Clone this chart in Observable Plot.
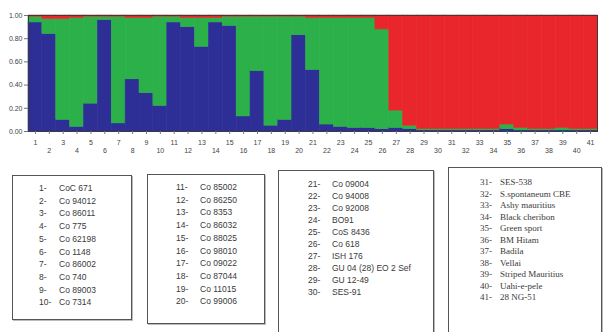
<!DOCTYPE html>
<html>
<head>
<meta charset="utf-8">
<script src="https://cdn.jsdelivr.net/npm/d3@7"></script>
<script src="https://cdn.jsdelivr.net/npm/@observablehq/plot@0.6"></script>
<style>
  html, body { margin: 0; padding: 0; background: #fff; }
  #wrap { position: relative; width: 604px; height: 332px; overflow: hidden; background: #fff; }
  #chart { position: absolute; left: 0; top: 0; }
  .box { position: absolute; border: 1px solid #555; box-shadow: 1px 1px 0 #bbb; background: #fff; color: #3a3a3a; }
  .box .row { position: absolute; white-space: nowrap; }
  .sans { font-family: "Liberation Sans", Arial, sans-serif; font-size: 8.5px; }
  .serif { font-family: "Liberation Serif", "Times New Roman", serif; font-size: 9px; }
</style>
</head>
<body>
<div id="wrap">
  <div id="chart"></div>
</div>
<script>
// Accession numbers
const ids = d3.range(1, 42);
// Membership coefficients (cluster K1 = blue, K2 = green, K3 = red)
const blue  = [0.94,0.84,0.10,0.04,0.24,0.96,0.07,0.45,0.33,0.22,
               0.94,0.90,0.73,0.94,0.91,0.13,0.52,0.05,0.10,0.83,
               0.53,0.06,0.04,0.03,0.03,0.02,0.03,0.02,0.01,0.01,
               0.01,0.01,0.01,0.01,0.02,0.01,0.01,0.01,0.01,0.01,0.01];
const green = [0.05,0.13,0.87,0.94,0.75,0.03,0.92,0.53,0.65,0.77,
               0.05,0.08,0.25,0.04,0.08,0.86,0.47,0.94,0.89,0.16,
               0.45,0.92,0.94,0.95,0.95,0.86,0.15,0.03,0.01,0.01,
               0.01,0.01,0.01,0.01,0.04,0.02,0.01,0.01,0.02,0.01,0.01];
const red   = [0.01,0.03,0.03,0.02,0.01,0.01,0.01,0.02,0.02,0.01,
               0.01,0.02,0.02,0.02,0.01,0.01,0.01,0.01,0.01,0.01,
               0.02,0.02,0.02,0.02,0.02,0.12,0.82,0.95,0.98,0.98,
               0.98,0.98,0.98,0.98,0.94,0.97,0.98,0.98,0.97,0.98,0.98];
const clusters = ["K1", "K2", "K3"];
const clusterColors = ["#2e2f96", "#2bb04a", "#e8262b"];
const yTicks = [0, 0.2, 0.4, 0.6, 0.8, 1.0];

// Legend names
const names = [
  "CoC 671","Co 94012","Co 86011","Co 775","Co 62198","Co 1148","Co 86002","Co 740","Co 89003","Co 7314",
  "Co 85002","Co 86250","Co 8353","Co 86032","Co 88025","Co 98010","Co 09022","Co 87044","Co 11015","Co 99006",
  "Co 09004","Co 94008","Co 92008","BO91","CoS 8436","Co 618","ISH 176","GU 04 (28) EO 2 Sef","GU 12-49","SES-91",
  "SES-538","S.spontaneum CBE","Ashy mauritius","Black cheribon","Green sport","BM Hitam","Badila","Vellai","Striped Mauritius","Uahi-e-pele","28 NG-51"
];

const series = [blue, green, red];
const data = ids.flatMap((id, i) => clusters.map((k, j) => ({id, k, v: series[j][i]})));

const chart = Plot.plot({
  width: 604,
  height: 160,
  marginLeft: 28,
  marginRight: 7,
  marginTop: 15,
  marginBottom: 29,
  style: {fontFamily: "Liberation Sans, Arial, sans-serif", fontSize: "7px", color: "#444", background: "transparent"},
  x: {type: "band", domain: ids, padding: 0, axis: null, label: null},
  y: {domain: [0, 1], axis: null, label: null},
  color: {type: "ordinal", domain: clusters, range: clusterColors},
  marks: [
    Plot.barY(data, {x: "id", y: "v", fill: "k", stroke: "k", strokeWidth: 0.6, inset: 0}),
    Plot.frame({stroke: "#3a3a3a", strokeWidth: 1}),
    Plot.axisY({ticks: yTicks, tickFormat: d3.format(".2f"), tickSize: 4, tickPadding: 2, stroke: "#777", label: null}),
    Plot.axisX({ticks: ids, tickSize: 3, tickFormat: () => "", stroke: "#777", label: null}),
    Plot.axisX({ticks: ids.filter(d => d % 2 === 1), tickSize: 0, tickPadding: 8.5, fill: "#444", label: null}),
    Plot.axisX({ticks: ids.filter(d => d % 2 === 0), tickSize: 0, tickPadding: 16.5, fill: "#444", label: null})
  ]
});
document.getElementById("chart").appendChild(chart);

// Legend boxes
const boxes = [
  {from: 0,  to: 10, left: 12,  top: 175, w: 118, h: 143, numX: 26, nameX: 46, y0: 7,  dy: 12.7, cls: "sans"},
  {from: 10, to: 20, left: 147, top: 174, w: 116, h: 148, numX: 28, nameX: 52, y0: 7,  dy: 12.7, cls: "sans"},
  {from: 20, to: 30, left: 278, top: 170, w: 154, h: 161, numX: 29, nameX: 53, y0: 8,  dy: 12.0, cls: "sans"},
  {from: 30, to: 41, left: 448, top: 167, w: 152, h: 164, numX: 31, nameX: 51, y0: 9,  dy: 11.5, cls: "serif"}
];
const wrap = document.getElementById("wrap");
for (const b of boxes) {
  const div = document.createElement("div");
  div.className = "box " + b.cls;
  Object.assign(div.style, {left: b.left + "px", top: b.top + "px", width: b.w + "px", height: b.h + "px"});
  for (let i = b.from; i < b.to; i++) {
    const r = i - b.from;
    const num = document.createElement("div");
    num.className = "row";
    num.textContent = (i + 1) + "-";
    Object.assign(num.style, {left: b.numX + "px", top: (b.y0 + r * b.dy) + "px"});
    const nm = document.createElement("div");
    nm.className = "row";
    nm.textContent = names[i];
    Object.assign(nm.style, {left: b.nameX + "px", top: (b.y0 + r * b.dy) + "px"});
    div.appendChild(num);
    div.appendChild(nm);
  }
  wrap.appendChild(div);
}
</script>
</body>
</html>
